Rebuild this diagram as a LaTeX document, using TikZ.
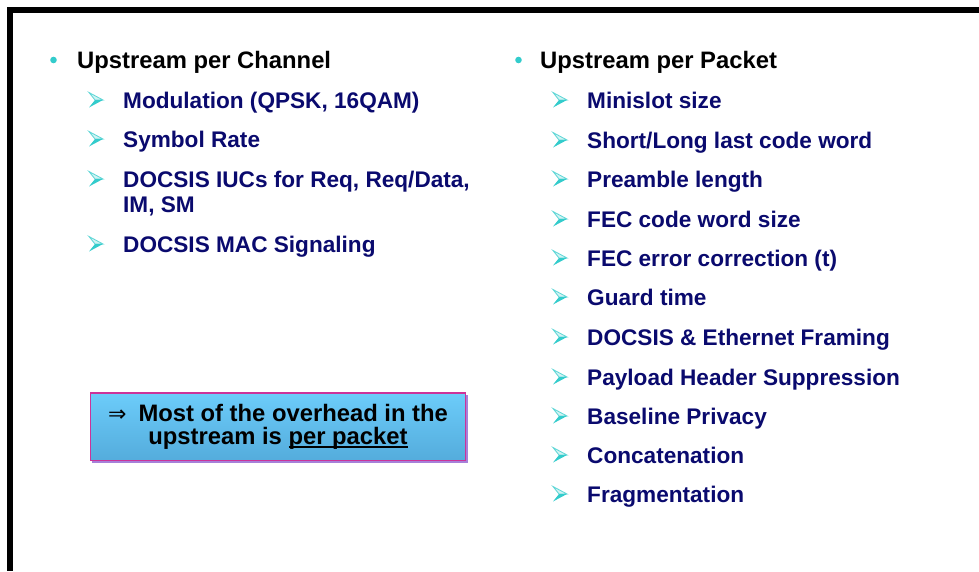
\documentclass[tikz,border=0pt]{standalone}
\usepackage{fontspec}
\setmainfont{Liberation Sans}
\newfontfamily\djv{DejaVu Sans}
\definecolor{navy}{RGB}{10,10,110}
\definecolor{teal1}{RGB}{51,204,204}
\definecolor{teallight}{RGB}{140,225,225}
\definecolor{boxtop}{RGB}{108,204,250}
\definecolor{boxbot}{RGB}{84,172,220}
\definecolor{boxedge}{RGB}{204,51,153}
\newcommand\myul[1]{\setbox0\hbox{#1}\rlap{\rule[-4pt]{\wd0}{1.8pt}}\box0}
\tikzset{
  x=1pt, y=-1pt,
  title/.style={anchor=base west, inner sep=0pt, font=\fontsize{23.8}{26}\selectfont\bfseries, text=black},
  item/.style={anchor=base west, inner sep=0pt, font=\fontsize{22.6}{25}\selectfont\bfseries, text=navy},
  boxtext/.style={anchor=base, inner sep=0pt, font=\fontsize{23.8}{26}\selectfont\bfseries, text=black},
  harr/.pic={
    \draw[teal1!80, line width=0.8pt, fill=teallight!40] (-14,-7.5) -- (0,0) -- (-8,0) -- cycle;
    \fill[teal1] (-8,0) -- (0,0) -- (-14,7.5) -- cycle;
  },
  dot/.style={circle, fill=teal1, minimum size=6.6pt, inner sep=0pt}
}
\begin{document}
\begin{tikzpicture}
\useasboundingbox (0,0) rectangle (979,571);
\fill[white] (0,0) rectangle (979,571);
% frame
\fill[black] (7,7) rectangle (979,13);
\fill[black] (7,7) rectangle (13,571);

% left column
\node[dot] (bl) at (53.5,60) {};
\node[title] (tl) at (77,68) {Upstream per Channel};
\foreach \y/\t [count=\i] in {108/{Modulation (QPSK, 16QAM)}, 147/{Symbol Rate}, 187/{DOCSIS IUCs for Req, Req/Data,}, 252/{DOCSIS MAC Signaling}} {
  \pic at (103,\y-8) {harr};
  \node[item] (l\i) at (123,\y) {\t};
}
\node[item] (l3b) at (123,212) {IM, SM};

% right column
\node[dot] (br) at (518.5,60) {};
\node[title] (tr) at (540,68) {Upstream per Packet};
\foreach \y/\t [count=\i] in {108/{Minislot size}, 148/{Short/Long last code word}, 187/{Preamble length}, 227/{FEC code word size}, 266/{FEC error correction (t)}, 305/{Guard time}, 345/{DOCSIS \& Ethernet Framing}, 385/{Payload Header Suppression}, 424/{Baseline Privacy}, 463/{Concatenation}, 502/{Fragmentation}} {
  \pic at (567,\y-8) {harr};
  \node[item] (r\i) at (587,\y) {\t};
}

% box
\fill[blue!40!violet!50] (92,395) rectangle (467.5,462.5);
\shade[top color=boxtop, bottom color=boxbot, draw=boxedge, line width=1.8pt] (90.5,393) rectangle (465.5,460.5);
\node[boxtext] (b1) at (278,421) {{\fontsize{22}{22}\djv\mdseries\selectfont ⇒}\hspace{12pt}Most of the overhead in the};
\node[boxtext] (b2) at (278,444) {upstream is \myul{per packet}};
\end{tikzpicture}
\end{document}
